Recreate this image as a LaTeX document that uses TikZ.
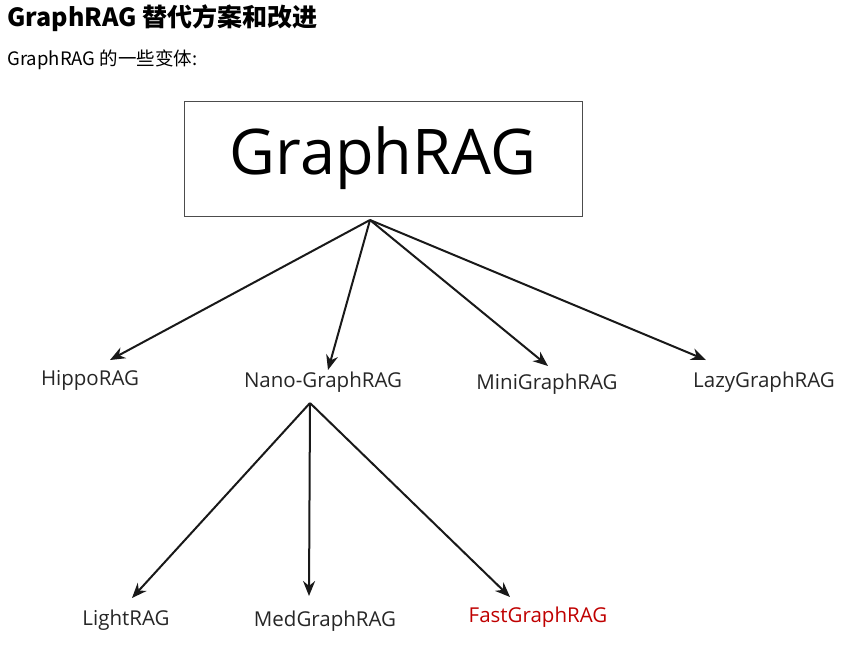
\documentclass[tikz,border=0pt]{standalone}
\usepackage{fontspec}
\setmainfont{Open Sans}
\newfontfamily\cjk{Noto Sans CJK SC}
\usetikzlibrary{arrows.meta}
\begin{document}
\begin{tikzpicture}[x=1pt,y=-1pt,
  lbl/.style={font=\fontsize{20.5}{24}\selectfont, text=black!85},
  arr/.style={-{Stealth[length=15pt,width=12pt]}, line width=2pt, black!90}]
\useasboundingbox (0,0) rectangle (853,649);
\node[anchor=west, font=\cjk\bfseries\fontsize{25}{30}\selectfont] (title) at (4,18) {GraphRAG 替代方案和改进};
\node[anchor=west, font=\cjk\fontsize{18.5}{22}\selectfont] (sub) at (4,60) {GraphRAG 的一些变体:};
\node[draw=black!70, line width=0.8pt, minimum width=398pt, minimum height=115pt, font=\fontsize{63}{70}\selectfont] (root) at (383,158.5) {GraphRAG};
\coordinate (r) at (370,220);
\node[lbl] (hippo) at (90,380) {HippoRAG};
\node[lbl] (nano) at (323,382) {Nano-GraphRAG};
\node[lbl] (mini) at (547,384) {MiniGraphRAG};
\node[lbl] (lazy) at (764,382) {LazyGraphRAG};
\node[lbl] (light) at (126,620) {LightRAG};
\node[lbl] (med) at (325,621) {MedGraphRAG};
\node[lbl, text=red!75!black] (fast) at (538,617) {FastGraphRAG};
\coordinate (n) at (310,403);
\draw[arr] (r) -- (110,360);
\draw[arr] (r) -- (328,370);
\draw[arr] (r) -- (548,366);
\draw[arr] (r) -- (706,360);
\draw[arr] (n) -- (132,598);
\draw[arr] (n) -- (309,596);
\draw[arr] (n) -- (510,597);
\end{tikzpicture}
\end{document}
